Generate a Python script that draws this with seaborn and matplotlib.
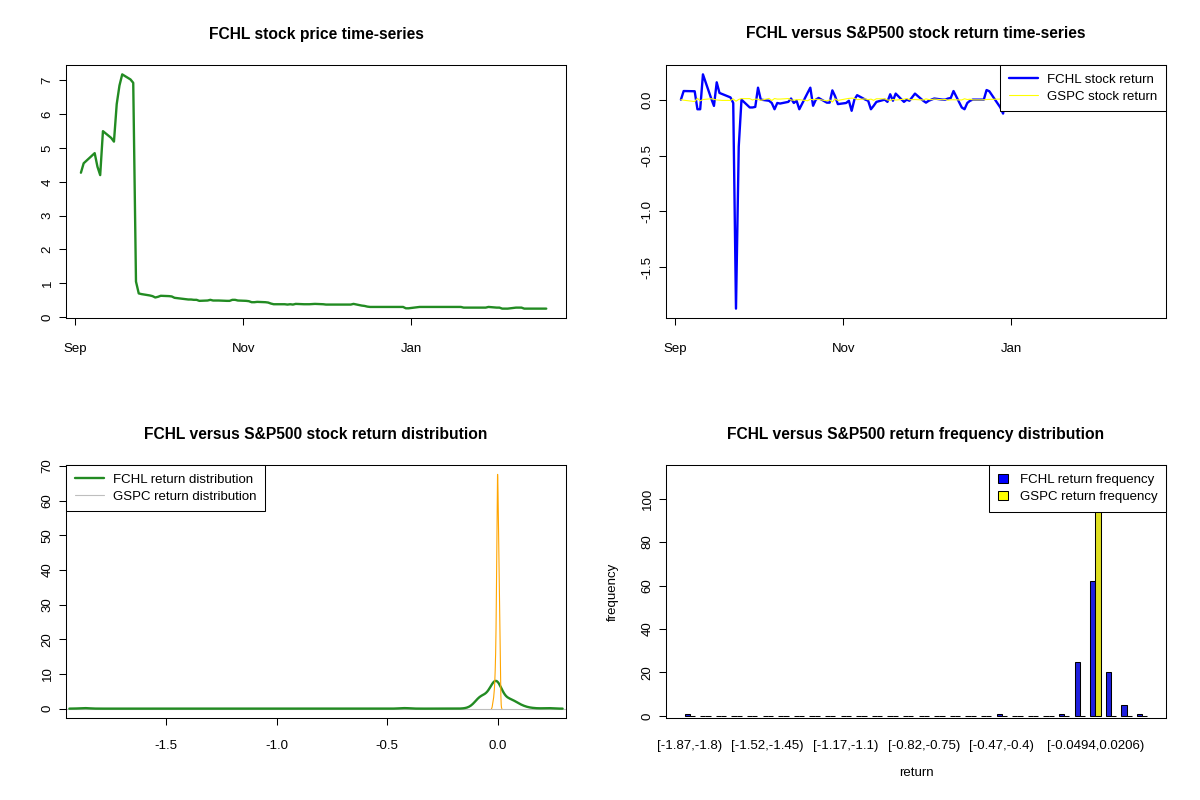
import numpy as np
import pandas as pd
import matplotlib
matplotlib.use("Agg")
import matplotlib.pyplot as plt
import matplotlib.dates as mdates
from matplotlib.lines import Line2D
from matplotlib.patches import Patch
import seaborn as sns

# ---------------- data ----------------
start_date = "2020-09-03"
end_date = "2021-02-19"
market_holidays = ["2020-09-07", "2020-11-26", "2020-12-25",
                   "2021-01-01", "2021-01-18", "2021-02-15"]
date_window = ["2020-08-28 14:00", "2021-02-26 04:00"]

fchl_price = [
    # Sep
    4.27, 4.55, 4.85, 4.45, 4.20, 5.50, 5.30, 5.19, 6.30, 6.85, 7.18, 7.03, 6.93,
    1.05, 0.70, 0.68, 0.64, 0.62, 0.58,
    # Oct
    0.60, 0.63, 0.62, 0.61, 0.57, 0.56, 0.55, 0.52, 0.52, 0.51, 0.51, 0.48, 0.49,
    0.51, 0.49, 0.49, 0.49, 0.48, 0.48, 0.51, 0.51, 0.49,
    # Nov
    0.48, 0.47, 0.44, 0.44, 0.45, 0.44, 0.43, 0.40, 0.38, 0.38, 0.38, 0.37, 0.38,
    0.37, 0.39, 0.38, 0.38, 0.38, 0.39, 0.38,
    # Dec
    0.37, 0.37, 0.37, 0.37, 0.37, 0.37, 0.37, 0.37, 0.39, 0.34, 0.33, 0.31, 0.30,
    0.30, 0.30, 0.30, 0.30, 0.30, 0.30, 0.30, 0.26, 0.26,
    # Jan
    0.30, 0.30, 0.30, 0.30, 0.30, 0.30, 0.30, 0.30, 0.30, 0.30, 0.30, 0.28, 0.28,
    0.28, 0.28, 0.28, 0.28, 0.28, 0.30,
    # Feb
    0.28, 0.28, 0.25, 0.25, 0.25, 0.28, 0.28, 0.28, 0.25, 0.25, 0.25, 0.25, 0.25, 0.25,
]

fchl_return = [
    # Sep
    0.0, 0.077, 0.075, -0.086, -0.086, 0.226, 0.01, -0.056, 0.155, 0.06, 0.05, 0.02,
    -0.03, -1.8694, -0.42, 0.0, -0.07, -0.07, -0.065,
    # Oct
    0.107, 0.0, -0.01, -0.03, -0.086, -0.03, -0.035, -0.02, 0.01, -0.03, -0.01,
    -0.086, 0.06, 0.107, -0.055, 0.0, 0.015, -0.027, -0.027, 0.083, 0.03, -0.04,
    # Nov
    -0.03, -0.01, -0.1, 0.0, 0.04, 0.0, -0.01, -0.086, -0.055, -0.02, 0.0, -0.02,
    0.048, -0.01, 0.054, -0.02, 0.0, -0.01, 0.054, -0.01,
    # Dec
    -0.027, -0.01, 0.0, 0.01, 0.0, 0.0, 0.01, 0.015, 0.077, -0.07, -0.086, -0.03,
    -0.01, 0.0, 0.0, 0.0, 0.086, 0.075, -0.07, -0.125, 0.05, -0.07,
    # Jan
    -0.02, 0.0, -0.08, 0.06, -0.01, 0.11, -0.06, -0.055, 0.0, -0.09, 0.04, -0.01,
    -0.065, 0.02, 0.07, -0.03, -0.1, 0.0, 0.12,
    # Feb
    -0.075, -0.01, 0.0, 0.05, -0.06, 0.01, -0.02, -0.085, 0.0, 0.035, -0.01, -0.04,
    0.0, -0.02,
]

gspc_return = [
    0.0, -0.005, -0.017, 0.012, -0.011, 0.001, 0.008, 0.003, -0.003, -0.005, -0.007,
    -0.007, 0.006, -0.014, 0.002, 0.009, 0.009, -0.003, 0.005, 0.003, -0.006,
    0.011, -0.008, 0.010, 0.005, 0.005, 0.010, -0.004, -0.004, -0.001, 0.000,
    -0.010, 0.003, -0.001, 0.003, 0.002, -0.011, -0.002, -0.021, 0.007, -0.007,
    0.007, 0.011, 0.013, 0.012, 0.000, 0.007, -0.001, 0.005, -0.006, 0.008,
    0.007, -0.003, -0.007, 0.002, -0.004, 0.004, 0.010, -0.001, 0.001, -0.003,
    0.007, 0.001, 0.000, 0.005, -0.001, 0.002, -0.005, -0.001, -0.001, -0.003,
    0.008, 0.001, 0.004, -0.002, -0.002, -0.001, 0.001, 0.002, 0.005, -0.001,
    0.001, 0.004, -0.009, 0.004, 0.004, 0.009, 0.003, -0.004, 0.000, 0.001,
    -0.002, -0.004, 0.005, 0.008, 0.000, -0.002, 0.002, -0.001, -0.015, 0.006,
    -0.011, 0.010, 0.008, 0.001, 0.007, 0.002, 0.004, -0.001, 0.000, 0.001,
    0.003, 0.000, 0.000, -0.003, -0.001,
]

month_ticks = ["2020-09-01", "2020-11-01", "2021-01-01"]
month_labels = ["Sep", "Nov", "Jan"]

bin_start = -1.8694
bin_width = 0.07
n_bins = 30
bin_label_pos = [0, 5, 10, 15, 20, 26]
bin_labels = ["[-1.87,-1.8)", "[-1.52,-1.45)", "[-1.17,-1.1)",
              "[-0.82,-0.75)", "[-0.47,-0.4)", "[-0.0494,0.0206)"]

titles = ["FCHL stock price time-series",
          "FCHL versus S&P500 stock return time-series",
          "FCHL versus S&P500 stock return distribution",
          "FCHL versus S&P500 return frequency distribution"]

# ---------------- derived tables ----------------
dates = pd.bdate_range(start_date, end_date, freq="C", holidays=market_holidays)
assert len(dates) == len(fchl_price) == len(fchl_return) == len(gspc_return), \
    (len(dates), len(fchl_price), len(fchl_return), len(gspc_return))

df = pd.DataFrame({"date": dates, "price": fchl_price,
                   "fchl": fchl_return, "gspc": gspc_return})

edges = bin_start + bin_width * np.arange(n_bins + 1)
fchl_counts = np.histogram(df["fchl"], bins=edges)[0]
gspc_counts = np.histogram(df["gspc"], bins=edges)[0]
hist_df = pd.DataFrame({
    "bin": list(range(n_bins)) * 2,
    "series": ["FCHL"] * n_bins + ["GSPC"] * n_bins,
    "count": list(fchl_counts) + list(gspc_counts),
})


def nrd0_factor(x):
    x = np.asarray(x, float)
    sd = np.std(x, ddof=1)
    iqr = np.subtract(*np.percentile(x, [75, 25]))
    lo = min(sd, iqr / 1.34)
    bw = 0.9 * lo * len(x) ** (-0.2)
    return bw / sd


# ---------------- style ----------------
sns.set_theme(style="white")
plt.rcParams["font.family"] = ["Liberation Sans", "DejaVu Sans"]
FS = 9.5
TFS = 11.25
plt.rcParams.update({
    "axes.edgecolor": "black", "axes.linewidth": 0.75,
    "xtick.color": "black", "ytick.color": "black",
    "text.color": "black", "axes.labelcolor": "black",
    "xtick.bottom": True, "ytick.left": True,
    "xtick.direction": "out", "ytick.direction": "out",
    "xtick.major.size": 5, "ytick.major.size": 5,
    "xtick.major.width": 0.75, "ytick.major.width": 0.75,
    "xtick.labelsize": FS, "ytick.labelsize": FS,
    "axes.unicode_minus": False,
})

fig = plt.figure(figsize=(12, 8), dpi=100)
W, H = 1200.0, 800.0


def panel(l, t, r, b):
    return fig.add_axes([l / W, (H - b) / H, (r - l) / W, (b - t) / H])


ax1 = panel(66, 65, 566, 318)
ax2 = panel(666, 65, 1166, 318)
ax3 = panel(66, 465, 566, 718)
ax4 = panel(666, 465, 1166, 718)


def r_axes(ax, xpad=10):
    for s in ax.spines.values():
        s.set_visible(True)
        s.set_color("black")
        s.set_linewidth(0.75)
    ax.tick_params(axis="x", pad=xpad)
    ax.tick_params(axis="y", pad=4)
    ax.set_xlabel("")
    ax.set_ylabel("")


def rot_y(ax):
    for lbl in ax.get_yticklabels():
        lbl.set_rotation(90)
        lbl.set_va("center")


def r_legend(ax, handles, labels, loc, **kw):
    opts = dict(loc=loc, frameon=True, fancybox=False, framealpha=1,
                edgecolor="black", borderaxespad=0, fontsize=FS,
                handlelength=2.2, handletextpad=0.7, borderpad=0.65,
                labelspacing=0.35)
    opts.update(kw)
    leg = ax.legend(handles, labels, **opts)
    leg.get_frame().set_linewidth(0.75)
    return leg


def date_axis(ax):
    win = mdates.date2num(pd.to_datetime(date_window))
    ax.set_xlim(win[0], win[1])
    ax.set_xticks(mdates.date2num(pd.to_datetime(month_ticks)))
    ax.set_xticklabels(month_labels)


# ---- panel 1: price ----
sns.lineplot(data=df, x="date", y="price", color="#228B22", linewidth=1.7, ax=ax1)
r_axes(ax1, xpad=13)
date_axis(ax1)
pr = df["price"].max() - df["price"].min()
ax1.set_ylim(df["price"].min() - 0.04 * pr, df["price"].max() + 0.04 * pr)
ax1.set_yticks(range(0, 8))
ax1.set_yticklabels([str(v) for v in range(0, 8)])
rot_y(ax1)

# ---- panel 2: returns ----
sns.lineplot(data=df, x="date", y="fchl", color="blue", linewidth=1.7, ax=ax2)
sns.lineplot(data=df, x="date", y="gspc", color="yellow", linewidth=0.8, ax=ax2)
r_axes(ax2, xpad=13)
date_axis(ax2)
lo2 = min(df["fchl"].min(), df["gspc"].min())
hi2 = max(df["fchl"].max(), df["gspc"].max())
ax2.set_ylim(lo2 - 0.04 * (hi2 - lo2), hi2 + 0.04 * (hi2 - lo2))
ax2.set_yticks([0.0, -0.5, -1.0, -1.5])
ax2.set_yticklabels(["0.0", "-0.5", "-1.0", "-1.5"])
rot_y(ax2)
r_legend(ax2, [Line2D([], [], color="blue", lw=1.7),
               Line2D([], [], color="yellow", lw=0.8)],
         ["FCHL stock return", "GSPC stock return"], "upper right")

# ---- panel 3: densities ----
ax3.axhline(0, color="#BEBEBE", linewidth=0.8, zorder=0)
sns.kdeplot(x=df["fchl"], bw_method=nrd0_factor(df["fchl"]), bw_adjust=1.6,
            cut=3, gridsize=512, color="#228B22", linewidth=1.7, ax=ax3)
sns.kdeplot(x=df["gspc"], bw_method=nrd0_factor(df["gspc"]), bw_adjust=1.1,
            cut=3, gridsize=512, color="orange", linewidth=0.8, ax=ax3)
r_axes(ax3, xpad=11)
fmin, fmax = df["fchl"].min(), df["fchl"].max()
fr = fmax - fmin
ax3.set_xlim(fmin - 0.04 * fr, fmax + 0.04 * fr)
ymax = max(ln.get_ydata().max() for ln in ax3.lines[1:])
ax3.set_ylim(-0.04 * ymax, 1.04 * ymax)
ax3.set_xticks([-1.5, -1.0, -0.5, 0.0])
ax3.set_xticklabels(["-1.5", "-1.0", "-0.5", "0.0"])
ax3.set_yticks(range(0, 71, 10))
ax3.set_yticklabels([str(v) for v in range(0, 71, 10)])
rot_y(ax3)
r_legend(ax3, [Line2D([], [], color="#228B22", lw=1.7),
               Line2D([], [], color="#BEBEBE", lw=0.8)],
         ["FCHL return distribution", "GSPC return distribution"], "upper left")

# ---- panel 4: histogram bars ----
sns.barplot(data=hist_df, x="bin", y="count", hue="series",
            hue_order=["FCHL", "GSPC"], palette=["blue", "yellow"],
            order=list(range(n_bins)), width=2 / 3, edgecolor="black",
            linewidth=0.75, ax=ax4)
r_axes(ax4)
if ax4.get_legend() is not None:
    ax4.get_legend().remove()
ax4.set_xlim(-1.52, n_bins - 1 + 1.52)
ax4.set_ylim(-1.0, 115.5)
ax4.set_xticks(range(n_bins))
xl = [""] * n_bins
for p, s in zip(bin_label_pos, bin_labels):
    xl[p] = s
ax4.set_xticklabels(xl)
ax4.tick_params(axis="x", length=0, pad=16)
ax4.set_yticks(range(0, 101, 20))
ax4.set_yticklabels([str(v) for v in range(0, 101, 20)])
rot_y(ax4)
ax4.set_xlabel("return", fontsize=FS)
ax4.xaxis.set_label_coords(0.5, -(767 - 718) / 253.0)
ax4.set_ylabel("frequency", fontsize=FS)
ax4.yaxis.set_label_coords((619 - 666) / 500.0, 0.5)
r_legend(ax4, [Patch(facecolor="blue", edgecolor="black", linewidth=0.75),
               Patch(facecolor="yellow", edgecolor="black", linewidth=0.75)],
         ["FCHL return frequency", "GSPC return frequency"], "upper right",
         handlelength=0.75, handleheight=0.75, handletextpad=0.9)

# ---- titles ----
for (cx, cy), t in zip([(316, 34), (916, 34), (316, 435), (916, 435)], titles):
    fig.text(cx / W, 1 - cy / H, t, ha="center", va="center",
             fontsize=TFS, fontweight="bold")

fig.savefig("out.png", dpi=100)
